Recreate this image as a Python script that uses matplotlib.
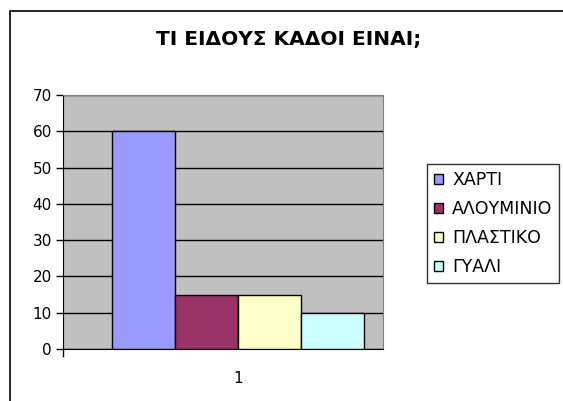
import matplotlib.pyplot as plt
from matplotlib.patches import Rectangle

plt.rcParams["font.family"] = ["DejaVu Sans"]

title = "ΤΙ ΕΙΔΟΥΣ ΚΑΔΟΙ ΕΙΝΑΙ;"
series_names = ["ΧΑΡΤΙ", "ΑΛΟΥΜΙΝΙΟ", "ΠΛΑΣΤΙΚΟ", "ΓΥΑΛΙ"]
values = [60, 15, 15, 10]
colors = ["#9999ff", "#993366", "#ffffcc", "#ccffff"]
category = "1"

W, H = 563, 401
fig = plt.figure(figsize=(W / 100, H / 100), dpi=100)

# outer chart frame (only left/top visible in the picture)
fig.patches.append(Rectangle((10 / W, -0.1), 1.2, 1 - 11 / H + 0.1,
                             transform=fig.transFigure, fill=False,
                             edgecolor="black", linewidth=1.2))

ax = fig.add_axes([63 / W, 1 - 349 / H, (383 - 63) / W, (349 - 95) / H])
ax.set_facecolor("#c0c0c0")

for i, (name, v, c) in enumerate(zip(series_names, values, colors)):
    ax.bar(i, v, width=1.0, color=c, edgecolor="black", linewidth=1,
           label=name, zorder=3)

ax.set_ylim(0, 70)
ax.set_yticks(range(0, 71, 10))
ax.set_xlim(-1.278, 3.8)
ax.set_xticks([1.5])
ax.set_xticklabels([category])
ax.yaxis.grid(True, color="black", linewidth=1, zorder=0)
ax.set_axisbelow(True)
ax.spines[["top", "right"]].set_color("#808080")
ax.spines[["left", "bottom"]].set_color("black")
ax.tick_params(axis="y", length=5, width=1, labelsize=11, pad=3)
ax.tick_params(axis="x", length=0, labelsize=11, pad=16)
ax.plot([-1.278, -1.278], [0, -2], color="black", lw=1, clip_on=False)

fig.text(289 / W, 1 - 40 / H, title, ha="center", va="center",
         fontsize=14.5, fontweight="bold")

leg = fig.legend(loc="upper left", bbox_to_anchor=(427 / W, 1 - 164 / H),
                 frameon=True, fancybox=False, fontsize=12.5,
                 handlelength=0.55, handleheight=0.55, handletextpad=0.5,
                 labelspacing=0.64, borderpad=0.4, borderaxespad=0)
leg.get_frame().set_edgecolor("black")
leg.get_frame().set_linewidth(1)

fig.savefig("out.png", dpi=100)
